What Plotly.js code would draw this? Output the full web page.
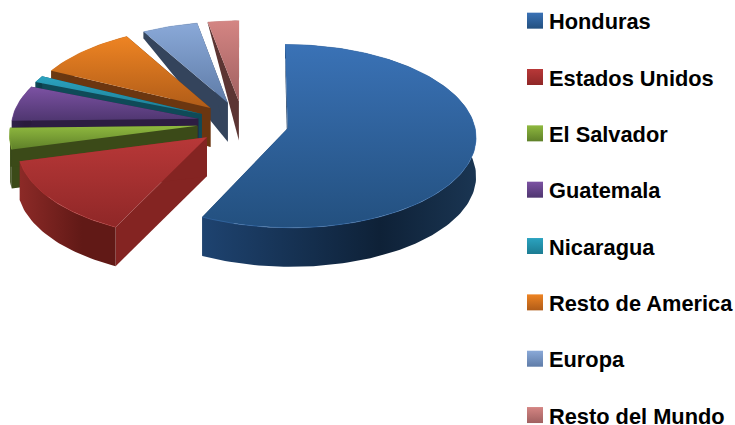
<!DOCTYPE html>
<html><head><meta charset="utf-8">
<script src="https://cdn.plot.ly/plotly-3.0.1.min.js"></script>
<style>html,body{margin:0;padding:0;background:#fff;overflow:hidden;width:735px;height:425px}</style>
</head><body><div id="chart"></div>
<script>
var categories = ["Honduras","Estados Unidos","El Salvador","Guatemala","Nicaragua","Resto de America","Europa","Resto del Mundo"];
var shares = [57.3,13.9,3.8,6.3,1.2,9.4,5.2,2.9];

var topLight  = ["#3a72b6","#b83838","#8fb93f","#7c52a3","#2ba3c0","#ee8423","#8aa9d8","#d48583"];
var topDark   = ["#23507f","#8f2727","#5f8029","#4f3670","#1c7c92","#b05c18","#5f7ca8","#a06060"];
var wallLight = ["#1e4370","#8c2a27","#4a5c1e","#30204a","#0f4a5a","#6e3a12","#36485f","#5e3836"];
var wallDark  = ["#0e2137","#611916","#38481a","#2a1b3d","#0c3d4a","#5e300e","#2e3d52","#4f2e2c"];
var wallEnd   = ["#1a3552","#611916","#38481a","#2a1b3d","#0c3d4a","#5e300e","#2e3d52","#4f2e2c"];
var faceColor = ["#1a3a60","#842422","#3b4a18","#2d1d42","#0f4a58","#6b3610","#34445c","#5c3533"];

/* projection of the tilted pie */
var W = 770, H = 470, X0 = 243, Y0 = 125, RX = 187, RY = 90.6, K = 0.066, EXPLODE = 0.245, DEPTH = 39, APEX_LIFT = 0.02;
function project(u, v){ var s = 1/(1 - K*v); return [X0 + RX*u*s, Y0 + RY*v*s]; }
function depthAt(v){ return DEPTH*Math.max(0, Math.min(1, (v + 1.25)/0.85)); }

var total = shares.reduce(function(a,b){return a+b;},0);
var slices = [], acc = 0;
shares.forEach(function(val,i){
  var a0 = acc/total*2*Math.PI; acc += val; var a1 = acc/total*2*Math.PI; var m = (a0+a1)/2;
  var cu = EXPLODE*Math.sin(m), cv = -EXPLODE*Math.cos(m);
  var n = Math.max(4, Math.ceil((a1-a0)*40)), rim = [];
  for (var k=0;k<=n;k++){ var t = a0+(a1-a0)*k/n; rim.push([cu+Math.sin(t), cv-Math.cos(t)]); }
  slices.push({i:i, apex:[cu,cv-APEX_LIFT], rim:rim});
});

function poly(pts, extra){
  var o = {type:'scatter', mode:'lines', x:pts.map(function(p){return p[0];}), y:pts.map(function(p){return p[1];}),
    fill:'toself', line:{width:0}, hoverinfo:'skip', showlegend:false};
  for (var k in extra) o[k]=extra[k];
  return o;
}
function down(uv){ var p = project(uv[0],uv[1]); return [p[0], p[1]+depthAt(uv[1])]; }
function up(uv){ return project(uv[0],uv[1]); }

var traces = [];
slices.slice().reverse().forEach(function(s){
  var i = s.i;
  var first = s.rim[0], last = s.rim[s.rim.length-1];
  [first,last].forEach(function(e){
    traces.push(poly([up(s.apex),up(e),down(e),down(s.apex)], {fillcolor:faceColor[i], name:categories[i]+' cut'}));
  });
  var wall = s.rim.map(up).concat(s.rim.slice().reverse().map(down));
  traces.push(poly(wall, {name:categories[i]+' side', fillgradient:{type:'horizontal',
    colorscale:[[0,wallLight[i]],[0.65,wallDark[i]],[1,wallEnd[i]]]}}));
  var top = [up(s.apex)].concat(s.rim.map(up)); top.push(up(s.apex));
  traces.push(poly(top, {name:categories[i], fillgradient:{type:'vertical',
    colorscale:[[0,topDark[i]],[1,topLight[i]]]}}));
  var rimPts = s.rim.map(up);
  traces.push({type:'scatter', mode:'lines', x:rimPts.map(function(p){return p[0];}), y:rimPts.map(function(p){return p[1];}),
    line:{width:1, color:topLight[i]}, opacity:0.55, hoverinfo:'skip', showlegend:false, name:categories[i]+' rim'});
});
categories.forEach(function(c,i){
  traces.push({type:'scatter', mode:'markers', x:[-50], y:[-50], name:c, legendgroup:c, hoverinfo:'skip',
    marker:{symbol:'square', size:16, color:topLight[i], gradient:{type:'vertical', color:topDark[i]}, line:{width:0}}});
});

var layout = {
  width:W, height:H, margin:{l:0,r:0,t:0,b:0}, paper_bgcolor:'#fff', plot_bgcolor:'#fff',
  hovermode:false,
  xaxis:{range:[0,W], visible:false, fixedrange:true},
  yaxis:{range:[H,0], visible:false, fixedrange:true},
  showlegend:true,
  legend:{x:509/W, xanchor:'left', y:1, yanchor:'top', bgcolor:'rgba(0,0,0,0)', borderwidth:0, tracegroupgap:25,
    font:{family:'"Liberation Sans", Arial, sans-serif', size:21.8, weight:700, color:'#000'}}
};
Plotly.newPlot('chart', traces, layout, {displayModeBar:false, staticPlot:true}).then(function(){
  document.querySelectorAll('.legendsymbols').forEach(function(g){ g.setAttribute('transform','translate(6,0)'); });
});
</script></body></html>
